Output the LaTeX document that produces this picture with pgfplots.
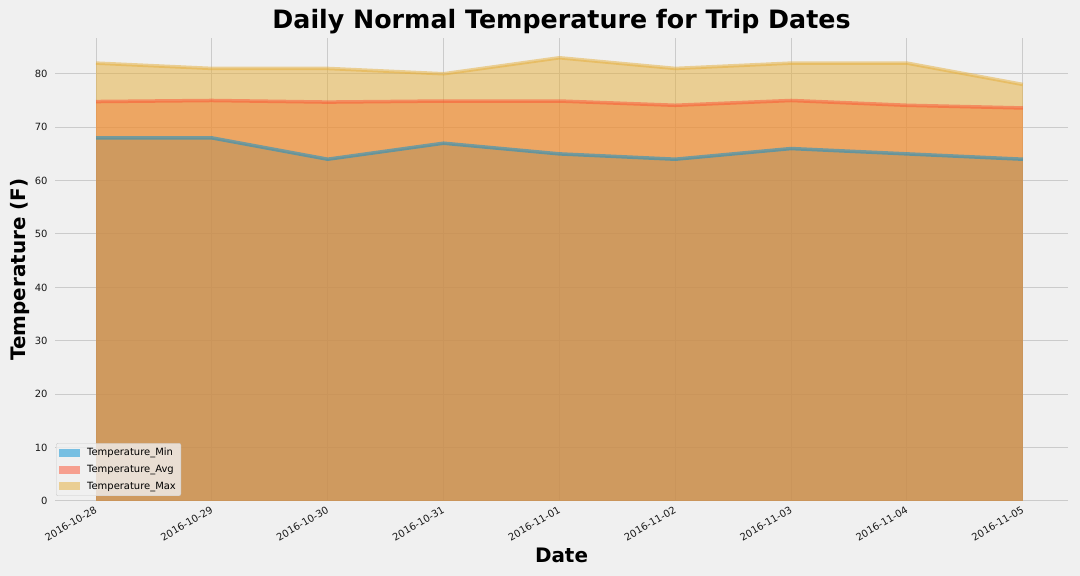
\documentclass[border=0pt]{standalone}
\usepackage{pgfplots}
\pgfplotsset{compat=1.18}
\usepackage{fontspec}
\setmainfont{DejaVu Sans}
\definecolor{bg}{HTML}{F0F0F0}
\definecolor{gridc}{HTML}{CBCBCB}
\definecolor{cmin}{HTML}{008FD5}
\definecolor{cavg}{HTML}{FC4F30}
\definecolor{cmax}{HTML}{E5AE38}
\begin{document}
\begin{tikzpicture}
\fill[bg] (0,0) rectangle (1080bp,576bp);
\begin{axis}[
  at={(55bp,75bp)}, anchor=south west,
  scale only axis, width=1013bp, height=463bp,
  xmin=-0.354, xmax=8.39, ymin=0, ymax=86.7,
  axis line style={draw=none},
  xtick={0,...,8},
  xticklabels={2016-10-28,2016-10-29,2016-10-30,2016-10-31,2016-11-01,2016-11-02,2016-11-03,2016-11-04,2016-11-05},
  ytick={0,10,...,80},
  major tick length=0pt,
  xmajorgrids, ymajorgrids,
  grid style={gridc, line width=1bp},
  /pgf/number format/assume math mode=true,
  tick label style={font=\fontsize{10}{12}\selectfont, text=black!90},
  x tick label style={rotate=30, anchor=north east, inner sep=1bp, yshift=-2bp, xshift=-3bp},
  y tick label style={xshift=-4bp},
  title={Daily Normal Temperature for Trip Dates},
  title style={at={(rel axis cs:0.5,1)}, anchor=center, yshift=10bp, font=\fontsize{25.4}{30}\selectfont\bfseries},
  xlabel={Date},
  xlabel style={at={(rel axis cs:0.5,0)}, anchor=center, yshift=-54bp, font=\fontsize{20}{24}\selectfont\bfseries},
  ylabel={Temperature (F)},
  every axis y label/.style={at={(rel axis cs:0,0.5)}, xshift=-35bp, rotate=90, anchor=center, font=\fontsize{20}{24}\selectfont\bfseries},
  legend style={at={(rel axis cs:0,0)}, anchor=south west, xshift=1bp, yshift=5bp,
    fill=bg, fill opacity=0.8, text opacity=1, draw=gridc, rounded corners=2bp,
    font=\fontsize{10}{12}\selectfont, cells={anchor=west}, inner xsep=3bp, inner ysep=3bp, row sep=4bp,
    /tikz/every odd column/.append style={column sep=5bp}},
  legend image code/.code={\fill[#1, sharp corners] (0bp,-4bp) rectangle (21bp,4bp);},
  legend cell align=left,
]
\addplot[draw=none, fill=cmin, fill opacity=0.5] coordinates {(0,68) (1,68) (2,64) (3,67) (4,65) (5,64) (6,66) (7,65) (8,64)} \closedcycle;
\addlegendentry{Temperature\_Min}
\addplot[draw=none, fill=cavg, fill opacity=0.5] coordinates {(0,74.8) (1,75.0) (2,74.7) (3,74.9) (4,74.9) (5,74.1) (6,75.0) (7,74.1) (8,73.6)} \closedcycle;
\addlegendentry{Temperature\_Avg}
\addplot[draw=none, fill=cmax, fill opacity=0.5] coordinates {(0,82) (1,81) (2,81) (3,80) (4,83) (5,81) (6,82) (7,82) (8,78)} \closedcycle;
\addlegendentry{Temperature\_Max}
\addplot[forget plot, cmin, draw opacity=0.5, line width=3.5bp] coordinates {(0,68) (1,68) (2,64) (3,67) (4,65) (5,64) (6,66) (7,65) (8,64)};
\addplot[forget plot, cavg, draw opacity=0.5, line width=3.5bp] coordinates {(0,74.8) (1,75.0) (2,74.7) (3,74.9) (4,74.9) (5,74.1) (6,75.0) (7,74.1) (8,73.6)};
\addplot[forget plot, cmax, draw opacity=0.5, line width=3.5bp] coordinates {(0,82) (1,81) (2,81) (3,80) (4,83) (5,81) (6,82) (7,82) (8,78)};
\end{axis}
\pgfresetboundingbox
\useasboundingbox (0,0) rectangle (1080bp,576bp);
\end{tikzpicture}
\end{document}
